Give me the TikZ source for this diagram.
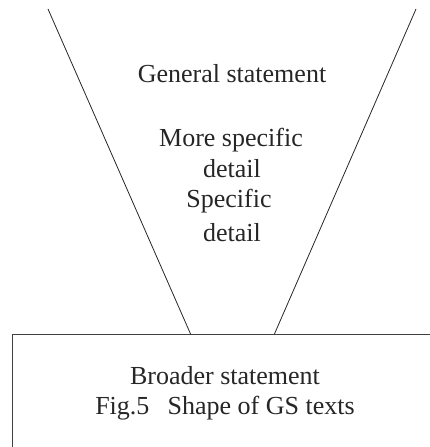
\documentclass[tikz,border=0pt]{standalone}
\usepackage{fontspec}
\setmainfont{Liberation Serif}

\begin{document}
\begin{tikzpicture}[x=1pt, y=1pt,
  txt/.style={anchor=base, inner sep=0pt, font=\fontsize{26}{31}\selectfont, text=black!85}]
\useasboundingbox (0, 0) rectangle (430, 447);

% Funnel
\coordinate (lt) at (48, 438);
\coordinate (lb) at (191, 112);
\coordinate (rt) at (416, 438);
\coordinate (rb) at (274, 112);
\draw[line width=0.8pt, black!85] (lt) -- (lb);
\draw[line width=0.8pt, black!85] (rt) -- (rb);

% Box
\coordinate (bl) at (12, 112);
\coordinate (br) at (430, 112);
\coordinate (bb) at (12, 0);
\draw[line width=1pt, black!75] (br) -- (bl) -- (bb);

% Labels
\node[txt] (gen) at (232, 364) {General statement};
\node[txt] (more) at (231, 300) {More specific};
\node[txt] (det1) at (232, 269) {detail};
\node[txt] (spec) at (229, 239) {Specific};
\node[txt] (det2) at (232, 205) {detail};
\node[txt] (broad) at (225, 62) {Broader statement};
\node[txt] (cap) at (225, 32) {Fig.5\hspace{0.45em} Shape of GS texts};

\end{tikzpicture}
\end{document}
